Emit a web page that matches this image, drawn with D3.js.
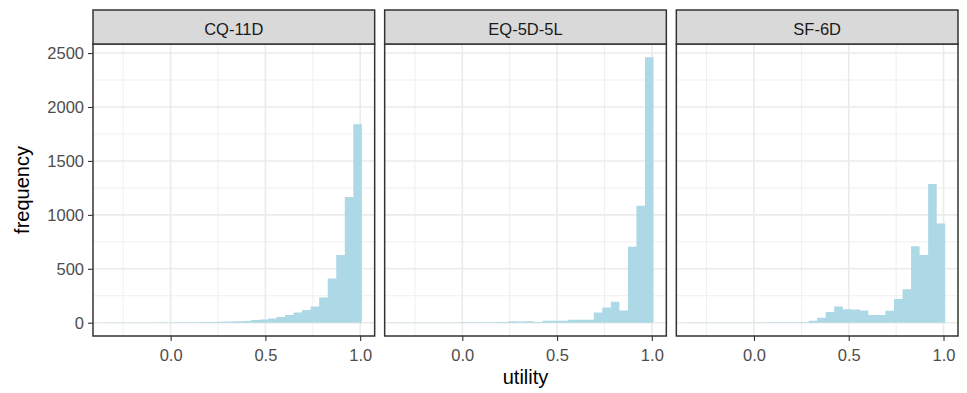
<!DOCTYPE html>
<html>
<head>
<meta charset="utf-8">
<script src="https://cdn.jsdelivr.net/npm/d3@7"></script>
<style>
  html, body { margin: 0; padding: 0; background: #fff; }
  svg { display: block; font-family: "Liberation Sans", Arial, sans-serif; }
</style>
</head>
<body>
<svg id="chart" width="967" height="393"></svg>
<script>
// ---- data ----
const categories = ["CQ-11D", "EQ-5D-5L", "SF-6D"];
const binMin = -0.342;      // left edge of the first bin
const binWidth = 0.04503;   // histogram bin width (30 bins)
const cq11dCounts = [3, 2, 2, 3, 2, 3, 4, 3, 4, 5, 5, 6, 7, 8,
  12, 14, 15, 25, 30, 40, 54, 72, 94, 118, 150, 234, 410, 628, 1165, 1840];
const eq5d5lCounts = [3, 2, 2, 2, 3, 3, 3, 4, 4, 4, 5, 6, 6,
  13, 12, 14, 6, 18, 18, 18, 28, 28, 28, 95, 142, 194, 114, 705, 1084, 2461];
const sf6dCounts = [2, 2, 2, 2, 2, 3, 3, 3, 3, 4, 4, 5, 5, 7,
  18, 45, 99, 151, 124, 122, 114, 71, 71, 112, 219, 311, 708, 628, 1287, 921];
const seriesValues = [cq11dCounts, eq5d5lCounts, sf6dCounts];
const xTickValues = [0, 0.5, 1.0];
const xTickLabels = ["0.0", "0.5", "1.0"];
const xMinorValues = [-0.25, 0.25, 0.75];
const yTickValues = [0, 500, 1000, 1500, 2000, 2500];
const yTickLabels = ["0", "500", "1000", "1500", "2000", "2500"];
const yMinorValues = [250, 750, 1250, 1750, 2250];
const xTitle = "utility";
const yTitle = "frequency";

// ---- layout ----
const svg = d3.select("#chart");
const plotLeft = 93, plotRight = 958, gap = 10;
const stripTop = 10, stripBottom = 44, panelBottom = 336;
const panelW = (plotRight - plotLeft - 2 * gap) / 3;

const panelScale = d3.scaleBand().domain(categories)
  .range([plotLeft, plotRight + gap]).paddingInner(0).paddingOuter(0);

const nBins = cq11dCounts.length;
const binHi = binMin + nBins * binWidth;
const xExp = 0.05 * (binHi - binMin);
const xDomain = [binMin - xExp, binHi + xExp];

const maxCount = d3.max(seriesValues.flat());
const y = d3.scaleLinear()
  .domain([-0.05 * maxCount, 1.05 * maxCount])
  .range([panelBottom, stripBottom]);

const fs = 16.5;

categories.forEach((cat, pi) => {
  const left = panelScale(cat);
  const x = d3.scaleLinear().domain(xDomain).range([left, left + panelW]);
  const g = svg.append("g");

  // panel background
  g.append("rect").attr("x", left).attr("y", stripBottom)
    .attr("width", panelW).attr("height", panelBottom - stripBottom)
    .attr("fill", "#fff");

  // minor grid
  g.selectAll(".ymin").data(yMinorValues).enter().append("line")
    .attr("x1", left).attr("x2", left + panelW)
    .attr("y1", d => y(d)).attr("y2", d => y(d))
    .attr("stroke", "#EBEBEB").attr("stroke-width", 0.8);
  g.selectAll(".xmin").data(xMinorValues).enter().append("line")
    .attr("y1", stripBottom).attr("y2", panelBottom)
    .attr("x1", d => x(d)).attr("x2", d => x(d))
    .attr("stroke", "#EBEBEB").attr("stroke-width", 0.8);
  // major grid
  g.selectAll(".ymaj").data(yTickValues).enter().append("line")
    .attr("x1", left).attr("x2", left + panelW)
    .attr("y1", d => y(d)).attr("y2", d => y(d))
    .attr("stroke", "#EBEBEB").attr("stroke-width", 1.6);
  g.selectAll(".xmaj").data(xTickValues).enter().append("line")
    .attr("y1", stripBottom).attr("y2", panelBottom)
    .attr("x1", d => x(d)).attr("x2", d => x(d))
    .attr("stroke", "#EBEBEB").attr("stroke-width", 1.6);

  // bars (a single path per panel so neighbouring bins have no seams)
  const counts = seriesValues[pi];
  const bw = x(binMin + binWidth) - x(binMin);
  const path = d3.path();
  counts.forEach((d, i) => {
    const x0 = x(binMin + i * binWidth);
    path.rect(x0, y(d), bw + 0.01, y(0) - y(d));
  });
  g.append("path").attr("d", path.toString()).attr("fill", "#ADD8E6");

  // panel border
  g.append("rect").attr("x", left).attr("y", stripBottom)
    .attr("width", panelW).attr("height", panelBottom - stripBottom)
    .attr("fill", "none").attr("stroke", "#333333").attr("stroke-width", 1.5);

  // strip
  g.append("rect").attr("x", left).attr("y", stripTop)
    .attr("width", panelW).attr("height", stripBottom - stripTop)
    .attr("fill", "#D9D9D9").attr("stroke", "#333333").attr("stroke-width", 1.5);
  g.append("text").attr("x", left + panelW / 2).attr("y", 35)
    .attr("text-anchor", "middle").attr("font-size", fs)
    .attr("fill", "#1A1A1A").text(cat);

  // x axis
  const xAxis = d3.axisBottom(x).tickValues(xTickValues)
    .tickFormat((d, i) => xTickLabels[i]).tickSizeInner(5).tickSizeOuter(0).tickPadding(4);
  const xa = g.append("g").attr("transform", `translate(0,${panelBottom})`).call(xAxis);
  xa.select(".domain").remove();
  xa.selectAll(".tick line").attr("stroke", "#333333").attr("stroke-width", 1.1);
  xa.selectAll(".tick text").attr("font-size", fs).attr("fill", "#4D4D4D")
    .attr("font-family", "Liberation Sans, Arial, sans-serif").attr("dy", "0.95em");

  if (pi === 0) {
    const yAxis = d3.axisLeft(y).tickValues(yTickValues)
      .tickFormat((d, i) => yTickLabels[i])
      .tickSizeInner(5).tickSizeOuter(0).tickPadding(4);
    const ya = g.append("g").attr("transform", `translate(${left},0)`).call(yAxis);
    ya.select(".domain").remove();
    ya.selectAll(".tick line").attr("stroke", "#333333").attr("stroke-width", 1.1);
    ya.selectAll(".tick text").attr("font-size", fs).attr("fill", "#4D4D4D")
      .attr("font-family", "Liberation Sans, Arial, sans-serif");
  }
});

// axis titles
svg.append("text")
  .attr("x", (plotLeft + plotRight) / 2).attr("y", 384)
  .attr("text-anchor", "middle").attr("font-size", 20).attr("fill", "#000")
  .text(xTitle);
svg.append("text")
  .attr("transform", `translate(29,${(stripBottom + panelBottom) / 2}) rotate(-90)`)
  .attr("text-anchor", "middle").attr("font-size", 20).attr("fill", "#000")
  .text(yTitle);
</script>
</body>
</html>
